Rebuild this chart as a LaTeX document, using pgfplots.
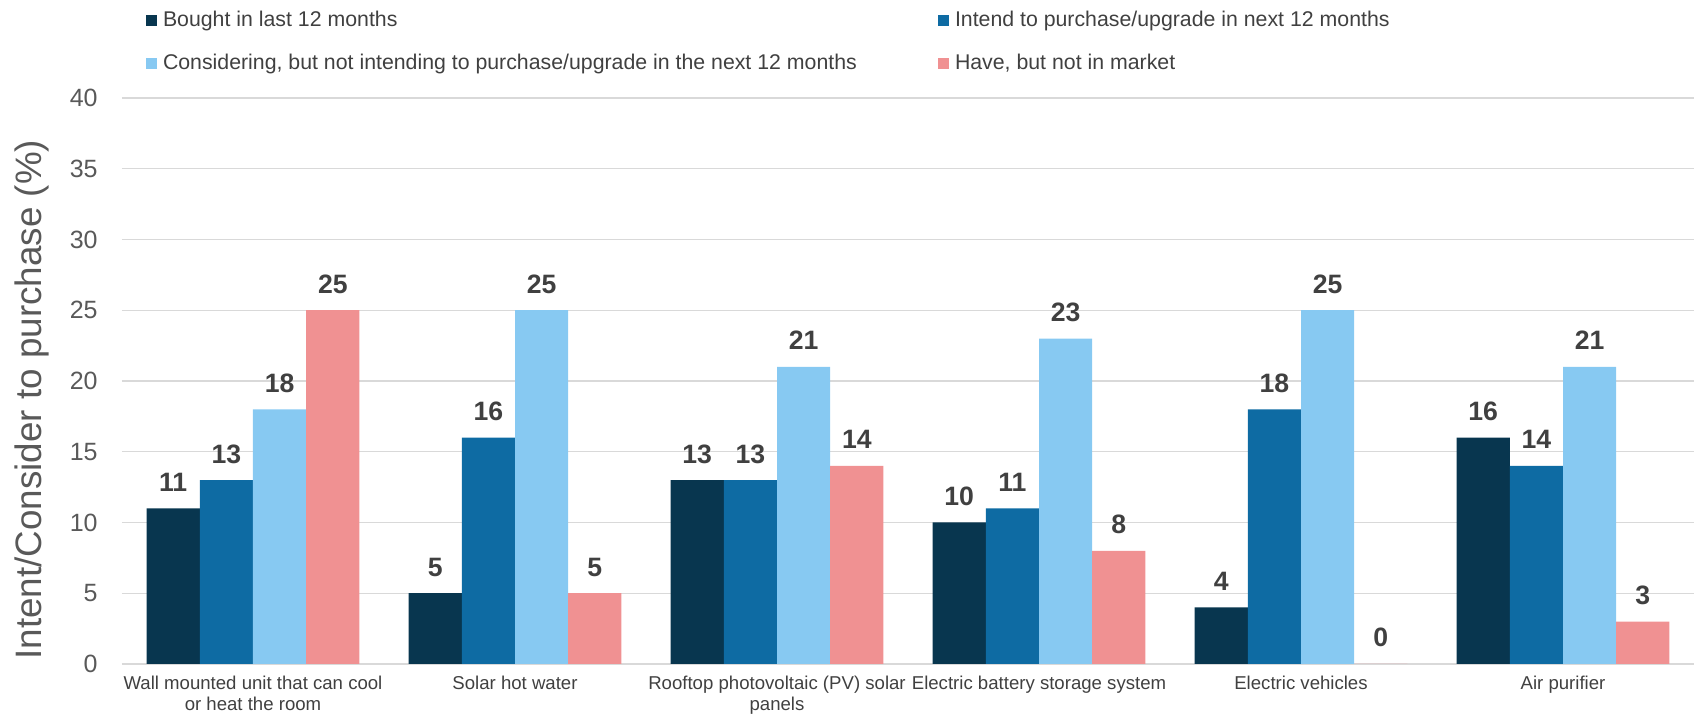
\documentclass[border=0pt]{standalone}
\usepackage{fontspec}
\setmainfont{Liberation Sans}
\usepackage{pgfplots}
\pgfplotsset{compat=1.18}
\definecolor{cA}{HTML}{08364F}
\definecolor{cB}{HTML}{0E6BA3}
\definecolor{cC}{HTML}{87C9F2}
\definecolor{cD}{HTML}{F09192}
\definecolor{gridc}{HTML}{D9D9D9}
\definecolor{txt}{HTML}{404040}
\definecolor{tickc}{HTML}{595959}
\begin{document}
\begin{tikzpicture}
\begin{axis}[
  at={(61pt,26pt)}, anchor=south west,
  scale only axis, width=786pt, height=283pt,
  ybar=0pt, bar width=26.6pt,
  xmin=-0.5, xmax=5.5, ymin=0, ymax=40,
  xtick={0,1,2,3,4,5},
  xticklabels={{Wall mounted unit that can cool\\or heat the room},{Solar hot water},{Rooftop photovoltaic (PV) solar\\panels},{Electric battery storage system},{Electric vehicles},{Air purifier}},
  ytick={0,5,...,40},
  major tick length=0pt,
  ymajorgrids, grid style={draw=gridc, line width=0.7pt},
  separate axis lines,
  axis x line*=bottom, axis y line*=left,
  x axis line style={draw=gridc, line width=1pt},
  y axis line style={draw=none},
  /pgf/number format/assume math mode=true,
  xticklabel style={font=\fontsize{9.3}{10.5}\selectfont, text=txt, align=center, inner sep=0pt, yshift=-6pt},
  yticklabel style={font=\fontsize{12.5}{14}\selectfont, text=tickc, inner sep=0pt, anchor=east, xshift=-12pt},
  ylabel={Intent/Consider to purchase (\%)},
  ylabel style={font=\fontsize{18.4}{20}\selectfont, text=tickc, at={(axis description cs:-0.0573,0.467)}, anchor=center},
  nodes near coords,
  every node near coord/.append style={font=\fontsize{13.3}{14}\selectfont\bfseries, text=txt, inner sep=0pt, anchor=base, yshift=8.5pt},
  legend columns=2,
  legend cell align=left,
  legend style={draw=none, fill=none, at={(axis description cs:0.01527,1.1544)}, anchor=north west, inner sep=0pt, outer sep=0pt,
    font=\fontsize{10.65}{12}\selectfont, text=txt, row sep=11.2pt,
    nodes={inner sep=0pt, text height=8pt, text depth=2.3pt},
    /tikz/every odd column/.append style={column sep=3pt}},
]
\addplot[fill=cA, draw=none, legend image code/.code={\fill[cA] (0pt,-2.75pt) rectangle (5.5pt,2.75pt);}] coordinates {(0,11) (1,5) (2,13) (3,10) (4,4) (5,16)};
\addlegendentry{\makebox[387.5pt][l]{Bought in last 12 months}}
\addplot[fill=cB, draw=none, legend image code/.code={\fill[cB] (0pt,-2.75pt) rectangle (5.5pt,2.75pt);}] coordinates {(0,13) (1,16) (2,13) (3,11) (4,18) (5,14)};
\addlegendentry{Intend to purchase/upgrade in next 12 months}
\addplot[fill=cC, draw=none, legend image code/.code={\fill[cC] (0pt,-2.75pt) rectangle (5.5pt,2.75pt);}] coordinates {(0,18) (1,25) (2,21) (3,23) (4,25) (5,21)};
\addlegendentry{\makebox[387.5pt][l]{Considering, but not intending to purchase/upgrade in the next 12 months}}
\addplot[fill=cD, draw=none, legend image code/.code={\fill[cD] (0pt,-2.75pt) rectangle (5.5pt,2.75pt);}] coordinates {(0,25) (1,5) (2,14) (3,8) (4,0) (5,3)};
\addlegendentry{Have, but not in market}
\end{axis}
\pgfresetboundingbox
\useasboundingbox (0,0) rectangle (847pt,358pt);
\end{tikzpicture}
\end{document}
